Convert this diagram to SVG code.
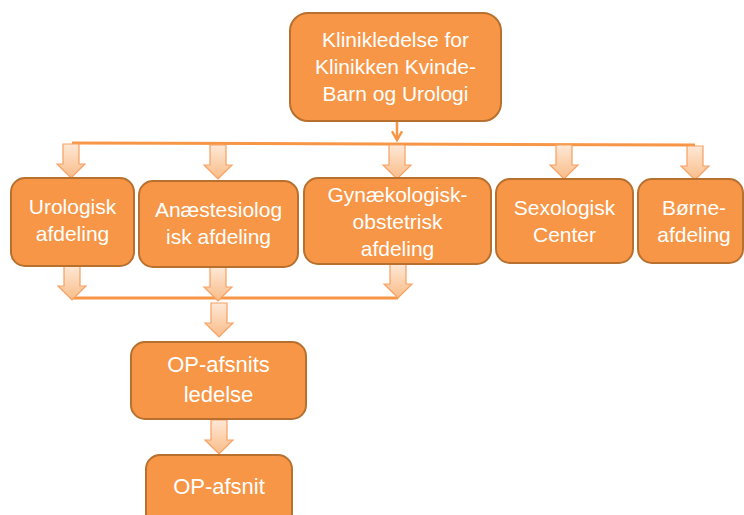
<svg xmlns="http://www.w3.org/2000/svg" width="744" height="515" viewBox="0 0 744 515">
  <defs>
    <linearGradient id="arrowFill" x1="0" y1="0" x2="0" y2="1">
      <stop offset="0" stop-color="#FEE8D6"/>
      <stop offset="1" stop-color="#F9BC88"/>
    </linearGradient>
    <marker id="chev" viewBox="0 0 10 10" refX="8" refY="5" markerWidth="5" markerHeight="5" orient="auto" markerUnits="strokeWidth">
      <path d="M1,1 L8,5 L1,9" fill="none" stroke="#F79646" stroke-width="2"/>
    </marker>
    <!-- block arrow pointing down, origin at top centre -->
    <path id="blockArrow" d="M-8,0 L8,0 L8,20 L14,20 L0,34 L-14,20 L-8,20 Z"/>
  </defs>
  <style>
    .box { fill: #F79646; stroke: #B8702F; stroke-width: 2; }
    .lbl { fill: #FFFFFF; font-family: "Liberation Sans", Arial, sans-serif; font-size: 21px; text-anchor: middle; }
    .lbl-lg { font-size: 22px; }
    .bus { fill: none; stroke: #F79646; stroke-width: 3; }
    .barrow { fill: url(#arrowFill); stroke: #F7A061; stroke-width: 1.2; }
  </style>

  <rect width="744" height="515" fill="#FFFFFF"/>

  <!-- connectors -->
  <g id="connectors">
    <line x1="397" y1="121" x2="397" y2="140" stroke="#F79646" stroke-width="2.5" marker-end="url(#chev)"/>
    <path class="bus" d="M72,143 L695,145"/>
    <use href="#blockArrow" class="barrow" x="71" y="144"/>
    <use href="#blockArrow" class="barrow" x="218" y="145"/>
    <use href="#blockArrow" class="barrow" x="397" y="145"/>
    <use href="#blockArrow" class="barrow" x="564" y="145"/>
    <use href="#blockArrow" class="barrow" x="695" y="146"/>
    <path class="bus" d="M72,298 L398,298"/>
    <use href="#blockArrow" class="barrow" x="72" y="266"/>
    <use href="#blockArrow" class="barrow" x="218" y="267"/>
    <use href="#blockArrow" class="barrow" x="398" y="264"/>
    <use href="#blockArrow" class="barrow" x="219" y="303"/>
    <use href="#blockArrow" class="barrow" x="219" y="420"/>
  </g>

  <g id="klinikledelse">
    <rect class="box" x="290" y="13" width="211" height="108" rx="18"/>
    <text class="lbl"><tspan x="395.5" y="47">Klinikledelse for</tspan><tspan x="395.5" y="74">Klinikken Kvinde-</tspan><tspan x="395.5" y="101">Barn og Urologi</tspan></text>
  </g>

  <g id="urologisk">
    <rect class="box" x="11" y="178" width="123" height="88" rx="14"/>
    <text class="lbl"><tspan x="72.5" y="214">Urologisk</tspan><tspan x="72.5" y="241">afdeling</tspan></text>
  </g>

  <g id="anaestesiologisk">
    <rect class="box" x="139" y="181" width="159" height="86" rx="14"/>
    <text class="lbl"><tspan x="218.5" y="217">Anæstesiolog</tspan><tspan x="218.5" y="244">isk afdeling</tspan></text>
  </g>

  <g id="gynaekologisk">
    <rect class="box" x="304" y="178" width="187" height="86" rx="14"/>
    <text class="lbl"><tspan x="397.5" y="202">Gynækologisk-</tspan><tspan x="397.5" y="229">obstetrisk</tspan><tspan x="397.5" y="256">afdeling</tspan></text>
  </g>

  <g id="sexologisk">
    <rect class="box" x="496" y="179" width="137" height="84" rx="14"/>
    <text class="lbl"><tspan x="564.5" y="215">Sexologisk</tspan><tspan x="564.5" y="242">Center</tspan></text>
  </g>

  <g id="boerneafdeling">
    <rect class="box" x="638" y="179" width="105" height="84" rx="14"/>
    <text class="lbl"><tspan x="694" y="215">Børne-</tspan><tspan x="694" y="242">afdeling</tspan></text>
  </g>

  <g id="op-afsnits-ledelse">
    <rect class="box" x="131" y="342" width="175" height="77" rx="14"/>
    <text class="lbl lbl-lg"><tspan x="218.5" y="372">OP-afsnits</tspan><tspan x="218.5" y="402">ledelse</tspan></text>
  </g>

  <g id="op-afsnit">
    <rect class="box" x="146" y="455" width="146" height="72" rx="14"/>
    <text class="lbl lbl-lg" x="219" y="494">OP-afsnit</text>
  </g>
</svg>
